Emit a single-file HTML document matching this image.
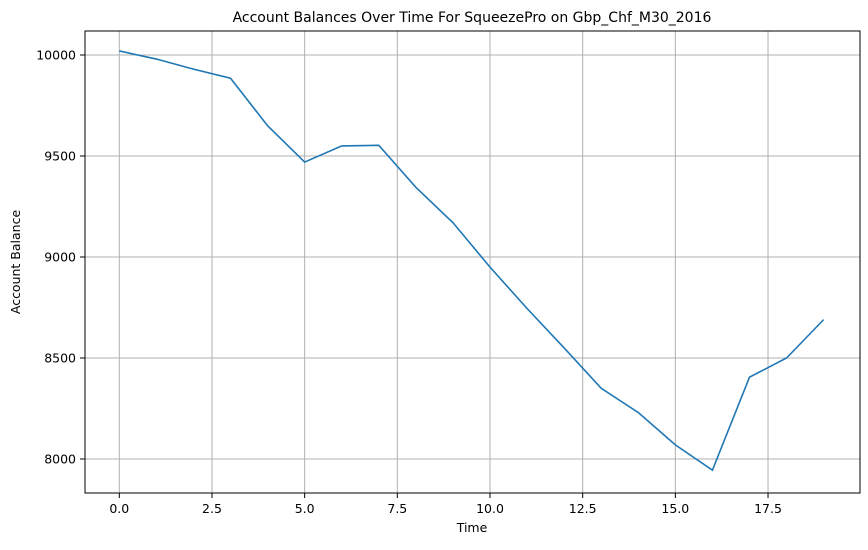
<!DOCTYPE html>
<html><head><meta charset="utf-8"><style>
body{margin:0;background:#fff;font-family:"Liberation Sans","DejaVu Sans",sans-serif;}
text{font-family:"DejaVu Sans","Liberation Sans",sans-serif;}
</style></head><body>
<svg id="chart" width="868" height="545">
<g id="grid"></g>
<rect x="85" y="31" width="775" height="462" fill="none" stroke="#000" stroke-width="1"/>
<g id="ticks"></g>
<polyline id="line" fill="none" stroke="#1f77b4" stroke-width="1.6"/>
<text x="472" y="22" text-anchor="middle" font-size="14">Account Balances Over Time For SqueezePro on Gbp_Chf_M30_2016</text>
<text x="472" y="532" text-anchor="middle" font-size="12.5">Time</text>
<text x="20" y="262" text-anchor="middle" font-size="12.5" transform="rotate(-90 20 262)">Account Balance</text>
</svg>
<script>
const times=[0,1,2,3,4,5,6,7,8,9,10,11,12,13,14,15,16,17,18,19];
const balances=[10020,9980,9930,9885,9650,9470,9550,9553,9345,9170,8950,8745,8550,8350,8230,8070,7945,8405,8500,8690];
const xTicks=[0,2.5,5,7.5,10,12.5,15,17.5];
const xTickLabels=["0.0","2.5","5.0","7.5","10.0","12.5","15.0","17.5"];
const yTicks=[8000,8500,9000,9500,10000];
const yTickLabels=["8000","8500","9000","9500","10000"];
const xs=v=>119.3+v*37.07;
const ys=v=>55+(10000-v)*0.202;
const NS="http://www.w3.org/2000/svg";
const grid=document.getElementById('grid'),ticks=document.getElementById('ticks');
function mk(tag,attrs,parent,txt){const e=document.createElementNS(NS,tag);for(const k in attrs)e.setAttribute(k,attrs[k]);if(txt!==undefined)e.textContent=txt;parent.appendChild(e);return e;}
xTicks.forEach((t,i)=>{const x=xs(t);
const g=mk('line',{x1:x,x2:x,y1:31,y2:493,stroke:'#b0b0b0','stroke-width':1},grid);


const tk=mk('line',{x1:x,x2:x,y1:493,y2:498,stroke:'#000'},ticks);


const l=mk('text',{x:x,y:513,'text-anchor':'middle','font-size':12.5},ticks,xTickLabels[i]);

});
yTicks.forEach((t,i)=>{const y=ys(t);
const g=mk('line',{x1:85,x2:860,y1:y,y2:y,stroke:'#b0b0b0','stroke-width':1},grid);


const tk=mk('line',{x1:80,x2:85,y1:y,y2:y,stroke:'#000'},ticks);


const l=mk('text',{x:76,y:y+4.5,'text-anchor':'end','font-size':12.5},ticks,yTickLabels[i]);

});
document.getElementById('line').setAttribute('points',times.map((t,i)=>xs(t)+','+ys(balances[i])).join(' '));
</script>
</body></html>
